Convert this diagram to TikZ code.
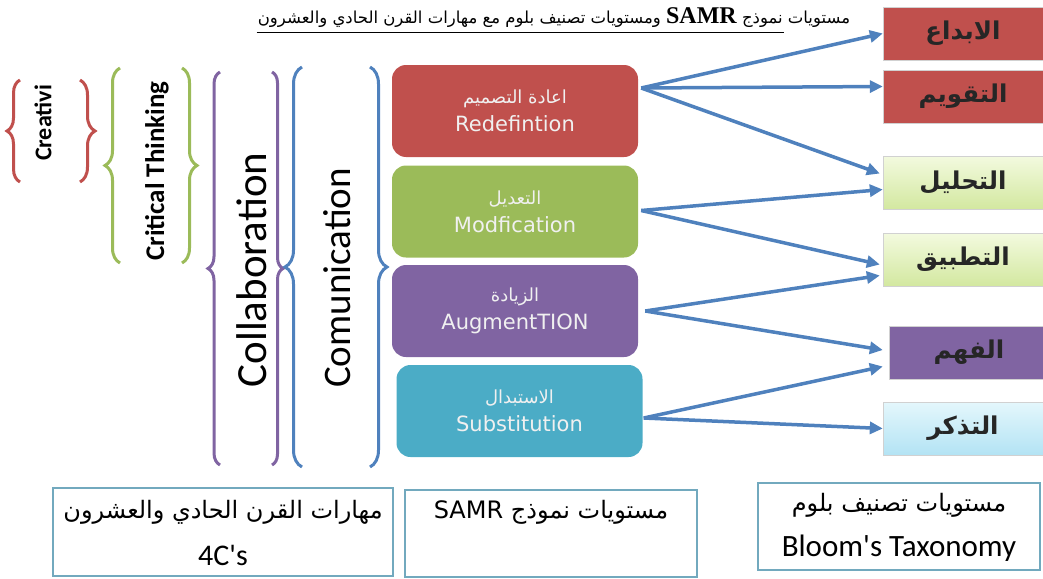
\documentclass[tikz,border=0pt]{standalone}
\usepackage{fontspec}
\setmainfont{Carlito}
\newfontfamily\arabicfont[Script=Arabic]{DejaVu Sans}
\newfontfamily\samrfont{DejaVu Sans}
\newfontfamily\titlefont{Liberation Serif}
\TeXXeTstate=1
\usetikzlibrary{arrows.meta,decorations.pathreplacing,positioning}

\definecolor{samrred}{HTML}{C0504D}
\definecolor{samrgreen}{HTML}{9BBB59}
\definecolor{samrpurple}{HTML}{8064A2}
\definecolor{samrteal}{HTML}{4BACC6}
\definecolor{arrowblue}{HTML}{4F81BD}
\definecolor{frameblue}{HTML}{72A9BE}
\definecolor{lightgreenA}{HTML}{F3FADF}
\definecolor{lightgreenB}{HTML}{D3E8A0}
\definecolor{lightblueA}{HTML}{E4F7FC}
\definecolor{lightblueB}{HTML}{B3E3F4}

\tikzset{
  samrbox/.style={rounded corners=14pt, minimum width=246pt, minimum height=92pt,
    text=white!94!black, align=center, font=\samrfont\fontsize{21}{28}\selectfont},
  bloombox/.style={minimum width=160pt, minimum height=53pt, draw=black!18,
    font=\arabicfont\bfseries\fontsize{24.5}{28}\selectfont, text=black!85},
  keybox/.style={draw=frameblue, line width=2pt, fill=white},
  link/.style={draw=arrowblue, line width=3.5pt, -{Triangle[length=13pt,width=12pt]}},
  curly/.style={decorate, decoration={brace, amplitude=#1}, line width=3pt}
}
\newcommand{\smallar}{\arabicfont\fontsize{18}{20}\selectfont}
\newcommand{\keyar}{\arabicfont\fontsize{24}{26}\selectfont}

\begin{document}
\begin{tikzpicture}[x=1pt,y=-1pt]
  \useasboundingbox (0,0) rectangle (1043,578);

  % title
  \node[font=\arabicfont\fontsize{16.5}{18}\selectfont, inner sep=1pt] (ttl) at (554,18)
    {\beginR مستويات نموذج \beginL{\titlefont\bfseries\fontsize{24}{24}\selectfont SAMR}\endL{} ومستويات تصنيف بلوم مع مهارات القرن الحادي والعشرون\endR};
  \draw[line width=0.8pt] ([yshift=-3pt]ttl.south west) -- ([xshift=-67pt,yshift=-3pt]ttl.south east);

  % 4C's braces
  \foreach \lx/\la/\rx/\ra/\ytop/\ybot/\col in {20/13/80/15/80/182/samrred,
      120/15/182/15/68/263/samrgreen, 220/12/272/11/72/465/samrpurple,
      302/17/370/17/67/467/arrowblue} {
    \draw[curly=\la pt, \col] (\lx,\ybot) -- (\lx,\ytop);
    \draw[curly=\ra pt, \col] (\rx,\ytop) -- (\rx,\ybot);
  }
  \node[rotate=90, font=\bfseries\fontsize{24}{26}\selectfont] (creat) at (43,123) {Creativi};
  \node[rotate=90, font=\bfseries\fontsize{27}{30}\selectfont] (crit) at (157,171) {Critical Thinking};
  \node[rotate=90, font=\fontsize{43}{46}\selectfont] (collab) at (252,270) {Collaboration};
  \node[rotate=90, font=\fontsize{39}{42}\selectfont] (comm) at (337,278) {Comunication};

  % SAMR levels
  \node[samrbox, fill=samrred] (redef) at (515,111)
    {{\smallar\beginR اعادة التصميم\endR}\\Redefintion};
  \node[samrbox, fill=samrgreen] (modif) at (515,211.5)
    {{\smallar\beginR التعديل\endR}\\Modfication};
  \node[samrbox, fill=samrpurple] (augm) at (515,311)
    {{\smallar\beginR الزيادة\endR}\\AugmentTION};
  \node[samrbox, fill=samrteal] (subst) at (519.5,411)
    {{\smallar\beginR الاستبدال\endR}\\Substitution};

  % Bloom levels
  \node[bloombox, fill=samrred] (ibdaa) at (963,33.5) {\beginR الابداع\endR};
  \node[bloombox, fill=samrred] (taqwim) at (963,96.5) {\beginR التقويم\endR};
  \node[bloombox, top color=lightgreenA, bottom color=lightgreenB] (tahlil) at (963,182.5) {\beginR التحليل\endR};
  \node[bloombox, top color=lightgreenA, bottom color=lightgreenB] (tatbiq) at (963,259.5) {\beginR التطبيق\endR};
  \node[bloombox, fill=samrpurple] (fahm) at (969,352.5) {\beginR الفهم\endR};
  \node[bloombox, top color=lightblueA, bottom color=lightblueB] (tadhkir) at (963,428.5) {\beginR التذكر\endR};

  % links
  \coordinate (rdout) at ([xshift=3pt,yshift=23pt]redef.east);
  \coordinate (mdout) at ([xshift=3pt,yshift=1pt]modif.east);
  \coordinate (agout) at ([xshift=7pt]augm.east);
  \coordinate (sbout) at ([xshift=1pt,yshift=-7pt]subst.east);
  \draw[link] (rdout) -- (ibdaa.west);
  \draw[link] (rdout) -- ([yshift=10pt]taqwim.west);
  \draw[link] (rdout) -- ([xshift=-3pt,yshift=9pt]tahlil.west);
  \draw[link] (mdout) -- ([yshift=-7pt]tahlil.west);
  \draw[link] (mdout) -- ([xshift=-3pt,yshift=-5pt]tatbiq.west);
  \draw[link] (agout) -- ([xshift=-3pt,yshift=-16pt]tatbiq.west);
  \draw[link] (agout) -- ([xshift=-6pt,yshift=2.5pt]fahm.west);
  \draw[link] (sbout) -- ([xshift=-6pt,yshift=-14pt]fahm.west);
  \draw[link] (sbout) -- (tadhkir.west);

  % legend boxes
  \node[keybox, minimum width=340pt, minimum height=88pt] (skills) at (223,532) {};
  \node[font=\keyar] (skillsar) at (223,512) {\beginR مهارات القرن الحادي والعشرون\endR};
  \node[font=\fontsize{30}{32}\selectfont] (skillsen) at (223,555) {4C\textquotesingle s};
  \node[keybox, minimum width=292pt, minimum height=87pt] (samr) at (551,533.5) {};
  \node[font=\keyar] (samrar) at (551,512) {\beginR مستويات نموذج \beginL{\samrfont SAMR}\endL{}\endR};
  \node[keybox, minimum width=282pt, minimum height=87pt] (bloom) at (899,526.5) {};
  \node[font=\keyar] (bloomar) at (899,505) {\beginR مستويات تصنيف بلوم\endR};
  \node[font=\fontsize{31}{33}\selectfont] (bloomen) at (899,548) {Bloom\textquotesingle s Taxonomy};
\end{tikzpicture}
\end{document}
